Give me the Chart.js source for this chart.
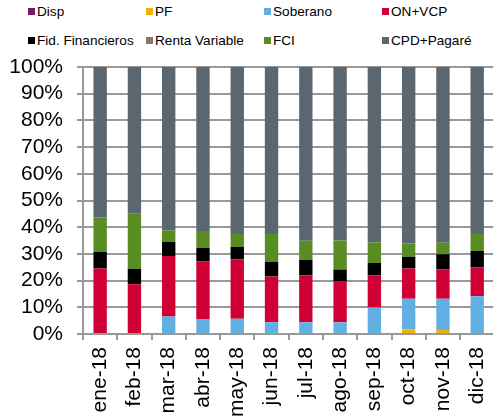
<!DOCTYPE html>
<html>
<head>
<meta charset="utf-8">
<script src="https://cdn.jsdelivr.net/npm/chart.js@4"></script>
<style>
  body { margin: 0; width: 493px; height: 419px; overflow: hidden; background: #fff; font-family: 'Liberation Sans', Arial, sans-serif; }
  #wrap { position: absolute; left: 0; top: 0; }
  #legend { position: absolute; left: 0; top: 0; width: 493px; height: 60px; }
  .item { position: absolute; font-size: 13.6px; color: #000; white-space: nowrap; line-height: 16px; }
  .item span.box { display: inline-block; width: 7px; height: 7px; margin-right: 2px; vertical-align: 1px; }
</style>
</head>
<body>
<div id="legend"></div>
<div id="wrap"><canvas id="chart" width="510" height="430"></canvas></div>
<script>
const months = ['ene-18', 'feb-18', 'mar-18', 'abr-18', 'may-18', 'jun-18', 'jul-18', 'ago-18', 'sep-18', 'oct-18', 'nov-18', 'dic-18'];

// % of portfolio per instrument
const disp      = [0, 0, 0, 0, 0, 0, 0, 0, 0, 0, 0, 0];
const pf        = [0, 0, 0, 0, 0, 0, 0, 0, 0, 1.7, 1.5, 0];
const soberano  = [0, 0, 6.6, 5.4, 5.7, 4.4, 4.4, 4.4, 9.9, 11.5, 11.7, 14.1];
const onVcp     = [24.5, 18.6, 22.6, 21.8, 22.3, 17.1, 17.6, 15.3, 12.1, 11.3, 11.0, 10.8];
const fid       = [6.2, 5.8, 5.3, 5.0, 4.6, 5.6, 5.7, 4.5, 4.6, 4.4, 5.7, 6.2];
const renta     = [0, 0, 0, 0, 0, 0, 0, 0, 0, 0, 0, 0];
const fci       = [12.9, 20.6, 4.4, 6.4, 4.9, 10.4, 7.2, 10.8, 7.7, 5.0, 4.3, 6.4];
const cpd       = [56.4, 55.0, 61.1, 61.4, 62.5, 62.5, 65.1, 65.0, 65.7, 66.1, 65.8, 62.5];

const yTicks = [0, 10, 20, 30, 40, 50, 60, 70, 80, 90, 100];

const series = [
  { label: 'Disp', data: disp, color: '#7B1A62' },
  { label: 'PF', data: pf, color: '#F0B400' },
  { label: 'Soberano', data: soberano, color: '#62B0E3' },
  { label: 'ON+VCP', data: onVcp, color: '#D00035' },
  { label: 'Fid. Financieros', data: fid, color: '#000000' },
  { label: 'Renta Variable', data: renta, color: '#857667' },
  { label: 'FCI', data: fci, color: '#5A8C24' },
  { label: 'CPD+Pagaré', data: cpd, color: '#5A6770' }
];

// legend laid out in a 4 x 2 grid like the original
const legend = document.getElementById('legend');
series.forEach((s, i) => {
  const el = document.createElement('div');
  el.className = 'item';
  el.style.left = (28 + (i % 4) * 118) + 'px';
  el.style.top = (4 + Math.floor(i / 4) * 29) + 'px';
  el.innerHTML = '<span class="box" style="background:' + s.color + '"></span>' + s.label;
  legend.appendChild(el);
});

const font = { family: "'Liberation Sans', Arial, sans-serif", size: 21 };

new Chart(document.getElementById('chart').getContext('2d'), {
  type: 'bar',
  data: {
    labels: months,
    datasets: series.map(s => ({
      label: s.label,
      data: s.data,
      backgroundColor: s.color,
      borderWidth: 0,
      categoryPercentage: 1,
      barPercentage: 0.39
    }))
  },
  options: {
    responsive: false,
    animation: false,
    devicePixelRatio: 1,
    layout: { padding: { left: 0, right: 14, top: 67, bottom: 0 } },
    plugins: { legend: { display: false }, tooltip: { enabled: false } },
    scales: {
      x: {
        stacked: true,
        afterFit: axis => { axis.height = 96; },
        grid: { offset: true, drawOnChartArea: false, tickLength: 6, color: '#999', lineWidth: 2 },
        border: { color: '#999', width: 2 },
        ticks: { autoSkip: false, minRotation: 90, maxRotation: 90, padding: 7, color: '#000', font: font }
      },
      y: {
        stacked: true,
        min: 0,
        max: 100,
        afterFit: axis => { axis.width = 83; },
        afterBuildTicks: axis => { axis.ticks = yTicks.map(v => ({ value: v })); },
        grid: { color: '#999', lineWidth: 2, tickLength: 6 },
        border: { color: '#999', width: 2 },
        ticks: { autoSkip: false, padding: 14, color: '#000', font: font, callback: v => v + '%' }
      }
    }
  }
});
</script>
</body>
</html>
